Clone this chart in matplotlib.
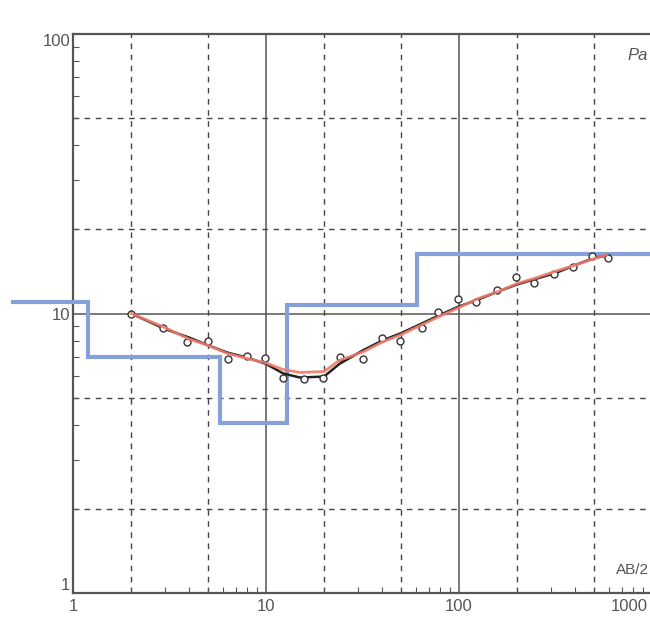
import matplotlib
matplotlib.use("Agg")
import matplotlib.pyplot as plt
from matplotlib.ticker import FixedLocator, NullFormatter
from matplotlib.transforms import ScaledTranslation

# Measured apparent resistivity (sounding points)
ab2_obs = [2.0, 2.93, 3.9, 5.0, 6.35, 7.97, 9.9, 12.3, 15.7, 19.7, 24.3, 31.8,
           39.9, 49.5, 64.3, 78, 98.6, 123, 157, 198, 245, 312, 388, 487, 589]
rho_obs = [10.0, 8.9, 7.94, 8.0, 6.9, 7.07, 6.95, 5.9, 5.85, 5.9, 7.0, 6.9,
           8.14, 8.0, 8.9, 10.1, 11.3, 10.95, 12.1, 13.46, 12.9, 13.9, 14.7, 16.0, 15.75]

# Smoothed field curve
ab2_curve = [2, 3, 4, 5, 6.3, 8, 10, 12.3, 15, 20, 24, 32, 40, 50, 64, 80,
             100, 125, 160, 200, 250, 320, 400, 500, 580]
rho_field = [10.0, 8.8, 8.2, 7.7, 7.25, 6.95, 6.6, 6.1, 5.9, 5.95, 6.6, 7.4,
             8.0, 8.5, 9.2, 9.9, 10.6, 11.2, 12.0, 12.7, 13.3, 14.0, 14.9, 15.8, 16.1]
# Calculated model response
rho_model = [10.0, 8.9, 8.1, 7.7, 7.2, 6.9, 6.65, 6.3, 6.15, 6.2, 6.8, 7.3,
             7.9, 8.4, 9.1, 9.8, 10.5, 11.3, 12.0, 12.8, 13.4, 14.2, 14.9, 15.7, 16.2]

# Layered model: boundaries (AB/2) and layer resistivities
layer_bounds = [1.2, 5.8, 12.8, 60.5]
layer_rho = [10.95, 7.0, 4.05, 10.7, 16.3]
model_start, model_end = 0.49, 1000

x_ticks = [1, 10, 100, 1000]
y_ticks = [1, 10, 100]

fig = plt.figure(figsize=(6.5, 6.19), dpi=100)
ax = fig.add_axes([73 / 650, 1 - 593 / 619, (652 - 73) / 650, (593 - 34) / 619])
ax.set_xscale("log")
ax.set_yscale("log")
ax.set_xlim(1, 1000)
ax.set_ylim(1, 100)

# grid: solid at decades, dashed at 2 and 5
for v in [10, 100]:
    ax.axvline(v, color="#555555", lw=1.1, zorder=1)
ax.axhline(10, color="#555555", lw=1.1, zorder=1)
for d in [1, 10, 100]:
    for m in [2, 5]:
        ax.axvline(d * m, color="#444444", lw=1.0, ls=(0, (4, 4)), zorder=1)
for d in [1, 10]:
    for m in [2, 5]:
        ax.axhline(d * m, color="#444444", lw=1.0, ls=(0, (4, 4)), zorder=1)

# layered model as step line
xs = [model_start] + layer_bounds + [model_end]
step_x, step_y = [], []
for i, r in enumerate(layer_rho):
    step_x += [xs[i], xs[i + 1]]
    step_y += [r, r]
ax.plot(step_x, step_y, color="#86a0da", lw=3.0, clip_on=False, zorder=3,
        solid_joinstyle="miter")

ax.plot(ab2_curve, rho_field, color="#222222", lw=1.8, zorder=4)
ax.plot(ab2_obs, rho_obs, ls="none", marker="o", ms=5, mfc="white",
        mec="#333333", mew=1.0, zorder=5)
ax.plot(ab2_curve, rho_model, color="#f07a6a", lw=2.0, alpha=0.9, zorder=6)

for s in ["left", "bottom", "top"]:
    ax.spines[s].set_color("#555555")
    ax.spines[s].set_linewidth(1.6)
ax.spines["right"].set_visible(False)

font = dict(family=["Liberation Sans Narrow", "Liberation Sans", "DejaVu Sans"],
            color="#555555")
ax.xaxis.set_major_locator(FixedLocator(x_ticks))
ax.yaxis.set_major_locator(FixedLocator(y_ticks))
ax.set_xticklabels([str(v) for v in x_ticks], fontsize=12, **font)
ax.set_yticklabels([str(v) for v in y_ticks], fontsize=12, **font)
ax.xaxis.set_minor_formatter(NullFormatter())
ax.yaxis.set_minor_formatter(NullFormatter())
ax.tick_params(which="major", direction="in", length=0, pad=4)
ax.tick_params(which="minor", direction="in", length=4, width=0.8, color="#555555")
ax.tick_params(axis="y", which="major", pad=2)
# nudge the end labels of the axes inward
ylabels = ax.get_yticklabels()
ylabels[0].set_verticalalignment("bottom")
ylabels[-1].set_verticalalignment("top")
last_x = ax.get_xticklabels()[-1]
last_x.set_horizontalalignment("right")
last_x.set_transform(last_x.get_transform()
                     + ScaledTranslation(-4 / 100, 0, fig.dpi_scale_trans))

ax.text((627 - 73) / 579, (593 - 55) / 559, "Pa", transform=ax.transAxes,
        fontsize=12, style="italic", ha="left", va="center", **font)
ax.text((616 - 73) / 579, (593 - 570) / 559, "AB/2", transform=ax.transAxes,
        fontsize=11, ha="left", va="center", **font)

fig.savefig("out.png", dpi=100)
